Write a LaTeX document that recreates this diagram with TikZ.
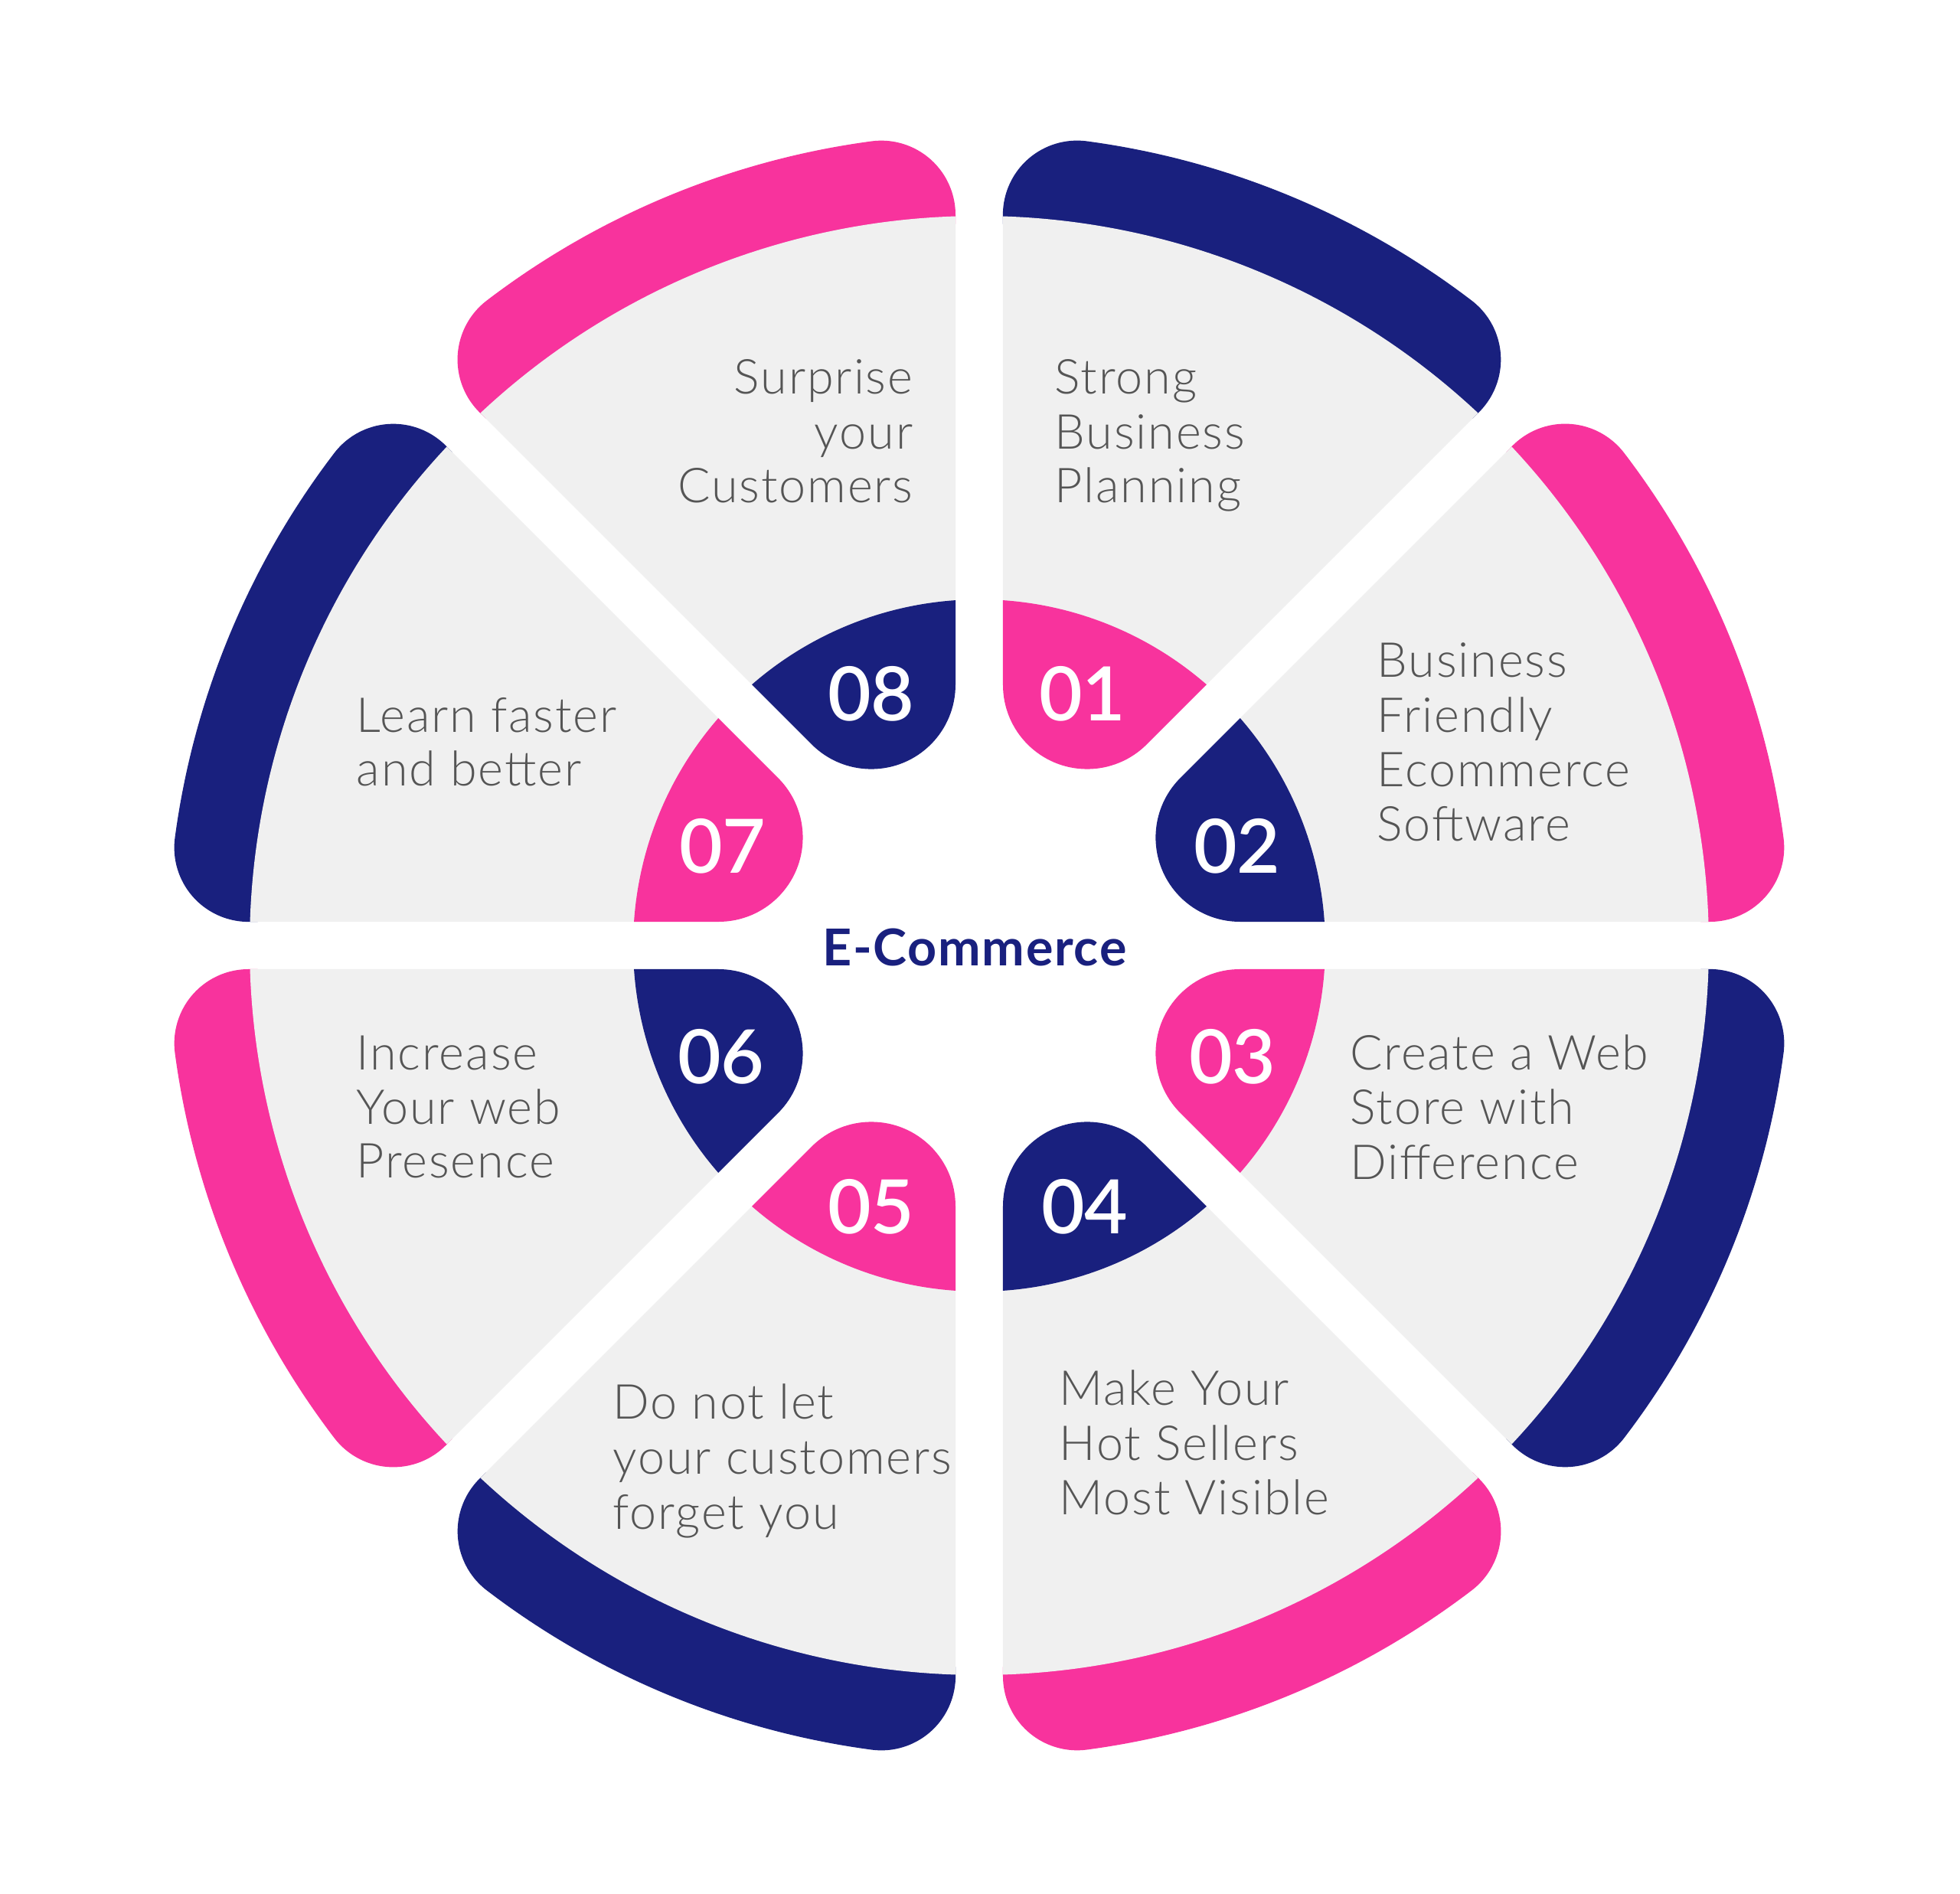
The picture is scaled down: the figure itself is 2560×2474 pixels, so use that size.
\documentclass[tikz,border=0pt]{standalone}
\usepackage{fontspec}
\setmainfont{Lato}
\newfontfamily\lightf{Lato Light}[LetterSpace=3]
\newfontfamily\semif{Lato Semibold}
\newfontfamily\titlef{Lato Bold}[LetterSpace=2.5]
\definecolor{pinkc}{HTML}{F8339D}
\definecolor{navyc}{HTML}{19207E}
\definecolor{grayc}{HTML}{F0F0F0}
\definecolor{txtc}{HTML}{555555}
\begin{document}
\begin{tikzpicture}[x=0.1mm,y=0.1mm,
  lbl/.style={inner sep=0pt, text=txtc, font=\lightf\fontsize{17.9}{20}\selectfont},
  lw/.style={lbl, anchor=base west},
  le/.style={lbl, anchor=base east},
  num/.style={inner sep=0pt, text=white, font=\semif\fontsize{27.8}{30}\selectfont},
  ttl/.style={inner sep=0pt, text=navyc, font=\titlef\fontsize{18.9}{20}\selectfont}]
\useasboundingbox (-1279,-1239) rectangle (1281,1235);
\fill[white] (-1279,-1239) rectangle (1281,1235);
% geometry
\pgfmathsetmacro\gp{31}
\pgfmathsetmacro\RZ{452}
\pgfmathsetmacro\RO{953}
\pgfmathsetmacro\RT{1060}
\pgfmathsetmacro\rcB{97}
\pgfmathsetmacro\rtT{110}
\pgfmathsetmacro\aRZ{asin(\gp/\RZ)}
\pgfmathsetmacro\RZi{\RZ-10}
\pgfmathsetmacro\aRZi{asin(\gp/\RZi)}
\pgfmathsetmacro\aRO{asin(\gp/\RO)}
\pgfmathsetmacro\ROi{\RO-10}
\pgfmathsetmacro\aROi{asin(\gp/\ROi)}
\pgfmathsetmacro\Lt{(\rtT+\gp)/tan(22.5)}
\pgfmathsetmacro\dT{atan(\gp/\Lt)}
\pgfmathsetmacro\rT{\Lt/cos(\dT)}
\pgfmathsetmacro\bandrho{\RT-\rcB}
\pgfmathsetmacro\phio{asin((\rcB+\gp)/\bandrho)}
\pgfmathsetmacro\Lb{\bandrho*cos(\phio)}
\pgfmathsetmacro\dB{atan(\gp/\Lb)}
\pgfmathsetmacro\rB{\Lb/cos(\dB)}
\foreach \k/\bc/\tc in {1/navyc/pinkc,2/pinkc/navyc,3/navyc/pinkc,4/pinkc/navyc,5/navyc/pinkc,6/pinkc/navyc,7/navyc/pinkc,8/pinkc/navyc}{
  \pgfmathsetmacro\a{90-45*\k}
  % outer band
  \fill[\bc] ({\a+\dB}:\rB)
     arc[start angle={\a-90}, end angle={\a+\phio}, radius=\rcB]
     arc[start angle={\a+\phio}, end angle={\a+45-\phio}, radius=\RT]
     arc[start angle={\a+45-\phio}, end angle={\a+135}, radius=\rcB]
     -- ({\a+45-\aROi}:\ROi)
     arc[start angle={\a+45-\aROi}, end angle={\a+\aROi}, radius=\ROi] -- cycle;
  % gray sector
  \fill[grayc] ({\a+\aRZi}:\RZi) -- ({\a+\aRO}:\RO)
     arc[start angle={\a+\aRO}, end angle={\a+45-\aRO}, radius=\RO]
     -- ({\a+45-\aRZi}:\RZi)
     arc[start angle={\a+45-\aRZi}, end angle={\a+\aRZi}, radius=\RZi] -- cycle;
  % number tab
  \fill[\tc] ({\a+\dT}:\rT) -- ({\a+\aRZ}:\RZ)
     arc[start angle={\a+\aRZ}, end angle={\a+45-\aRZ}, radius=\RZ]
     -- ({\a+45-\dT}:\rT)
     arc[start angle={\a+135}, end angle={\a+270}, radius=\rtT] -- cycle;
}
% numbers
\node[num] (n01) at (135,329) {01};
\node[num] (n02) at (337,130) {02};
\node[num] (n03) at (331,-145) {03};
\node[num] (n04) at (138,-341) {04};
\node[num] (n05) at (-141,-341) {05};
\node[num] (n06) at (-337,-145) {06};
\node[num] (n07) at (-335,130) {07};
\node[num] (n08) at (-141,329) {08};
% title
\node[ttl] (title) at (-6,-2) {E-Commerce};
% texts
\node[lw] (t1a) at (98,720) {Strong};
\node[lw] (t1b) at (98,648) {Business};
\node[lw] (t1c) at (98,578) {Planning};
\node[lw] (t2a) at (519,350) {Business};
\node[lw] (t2b) at (519,278) {Friendly};
\node[lw] (t2c) at (519,207) {Ecommerce};
\node[lw] (t2d) at (519,136) {Software};
\node[lw] (t3a) at (484,-162) {Create a Web};
\node[lw] (t3b) at (484,-233) {Store with};
\node[lw] (t3c) at (484,-305) {Difference};
\node[lw] (t4a) at (104,-600) {Make Your};
\node[lw] (t4b) at (104,-672) {Hot Sellers};
\node[lw] (t4c) at (104,-743) {Most Visible};
\node[lw] (t5a) at (-479,-618) {Do not let};
\node[lw] (t5b) at (-479,-690) {your customers};
\node[lw] (t5c) at (-479,-762) {forget you};
\node[lw] (t6a) at (-814,-162) {Increase};
\node[lw] (t6b) at (-814,-233) {Your web};
\node[lw] (t6c) at (-814,-303) {Presence};
\node[lw] (t7a) at (-814,278) {Learn faster};
\node[lw] (t7b) at (-814,208) {and better};
\node[le] (t8a) at (-86,720) {Surprise};
\node[le] (t8b) at (-86,648) {your};
\node[le] (t8c) at (-86,578) {Customers};
\end{tikzpicture}
\end{document}
